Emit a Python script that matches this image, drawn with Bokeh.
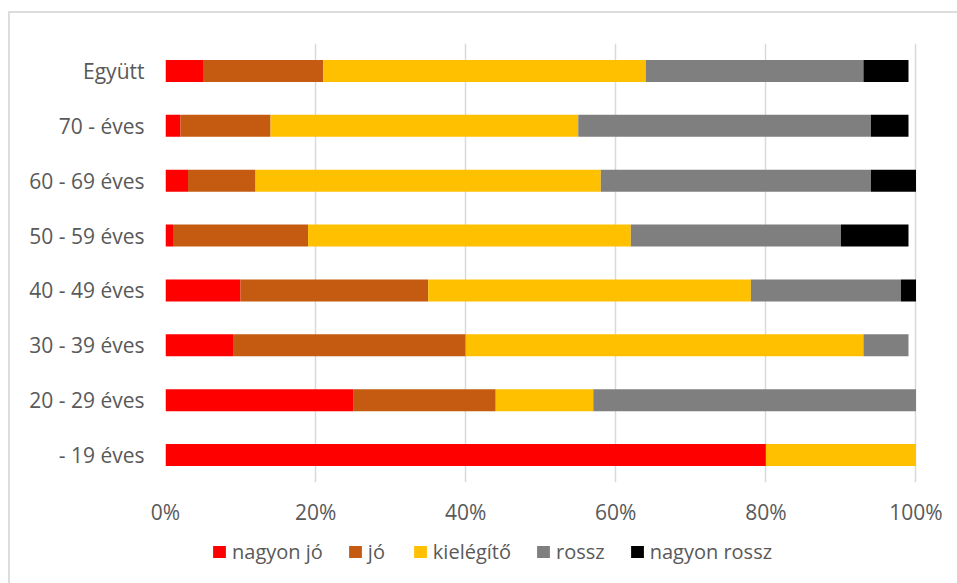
from bokeh.plotting import figure
from bokeh.layouts import column
from bokeh.models import (ColumnDataSource, FactorRange, Range1d, Legend, LegendItem,
                          FixedTicker, PrintfTickFormatter)
from bokeh.embed import file_html
from bokeh.resources import INLINE

# categories, bottom to top
categories = ["- 19 éves", "20 - 29 éves", "30 - 39 éves", "40 - 49 éves",
              "50 - 59 éves", "60 - 69 éves", "70 - éves", "Együtt"]

nagyon_jo    = [80, 25,  9, 10,  1,  3,  2,  5]
jo           = [ 0, 19, 31, 25, 18,  9, 12, 16]
kielegito    = [20, 13, 53, 43, 43, 46, 41, 43]
rossz        = [ 0, 43,  6, 20, 28, 36, 39, 29]
nagyon_rossz = [ 0,  0,  0,  2,  9,  6,  5,  6]

series_labels = ["nagyon jó", "jó", "kielégítő", "rossz", "nagyon rossz"]
series_keys = ["nagyon_jo", "jo", "kielegito", "rossz", "nagyon_rossz"]
colors = ["#FF0000", "#C55A11", "#FFC000", "#7F7F7F", "#000000"]
x_ticks = [0, 20, 40, 60, 80, 100]

source = ColumnDataSource(dict(cat=categories, nagyon_jo=nagyon_jo, jo=jo,
                               kielegito=kielegito, rossz=rossz,
                               nagyon_rossz=nagyon_rossz))

FONT = "Open Sans"
TXT = "#595959"

# main chart
p = figure(width=947, height=517, output_backend="svg", toolbar_location=None,
           y_range=FactorRange(factors=categories), x_range=Range1d(0, 101),
           min_border_left=155, min_border_right=34, min_border_top=30,
           min_border_bottom=48)

p.hbar_stack(series_keys, y="cat", height=0.4, color=colors,
             line_color=None, source=source)

p.xaxis.ticker = FixedTicker(ticks=x_ticks)
p.xaxis.formatter = PrintfTickFormatter(format="%d%%")
for ax in (p.xaxis[0], p.yaxis[0]):
    ax.axis_line_color = None
    ax.major_tick_line_color = None
    ax.minor_tick_line_color = None
    ax.major_tick_out = 0
    ax.major_label_text_font = FONT
    ax.major_label_text_font_size = "21px"
    ax.major_label_text_color = TXT
p.xaxis.major_label_standoff = 15
p.yaxis.major_label_standoff = 21

p.xgrid.grid_line_color = "#D9D9D9"
p.xgrid.grid_line_width = 1.5
p.ygrid.grid_line_color = None
p.outline_line_color = None

# legend strip (same series, zero-height and outside its visible x range; only the legend shows)
q = figure(width=947, height=53, output_backend="svg", toolbar_location=None,
           x_range=Range1d(200, 300), y_range=FactorRange(factors=categories),
           x_axis_type=None, y_axis_type=None, min_border=0)
q.outline_line_color = None
q.xgrid.visible = False
q.ygrid.visible = False
legend_renderers = q.hbar_stack(series_keys, y="cat", height=0, color=colors,
                                line_color=None, source=source)

legend = Legend(items=[LegendItem(label=l, renderers=[r])
                       for l, r in zip(series_labels, legend_renderers)],
                orientation="horizontal", location=(46, 18),
                glyph_width=16, glyph_height=15, label_standoff=5, spacing=24,
                padding=0, margin=0, border_line_color=None,
                background_fill_alpha=0,
                label_text_font=FONT, label_text_font_size="20px",
                label_text_color=TXT)
q.add_layout(legend, "center")

layout = column(p, q, spacing=0, margin=(11, 0, 0, 8),
                styles={"border-top": "2px solid #DDDDDD",
                        "border-left": "2px solid #DDDDDD"})

open("out.html", "w").write(file_html(layout, INLINE))
